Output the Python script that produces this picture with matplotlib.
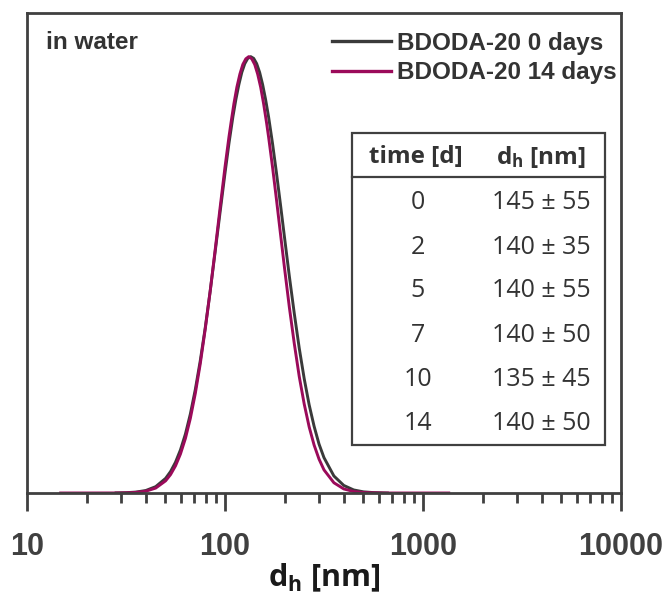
from matplotlib import pyplot as plt
from matplotlib.patches import Rectangle
import numpy as np

plt.rcParams['mathtext.fontset'] = 'custom'
plt.rcParams['mathtext.rm'] = 'Open Sans'
plt.rcParams['mathtext.bf'] = 'Open Sans:bold'

# size distributions (d_h in nm, normalised intensity)
d_0days = [28.18, 31.62, 35.48, 39.81, 44.67, 50.12, 53.09, 56.23, 59.57, 63.10, 66.83, 70.79,
           74.99, 79.43, 84.14, 89.13, 94.41, 100, 104.7, 109.6, 113.5, 117.5, 121.6, 125.9,
           130.3, 134.9, 139.6, 144.5, 149.6, 154.9, 160.3, 166.0, 173.8, 182.0, 190.5, 199.5,
           211.3, 223.9, 237.1, 251.2, 266.1, 281.8, 298.5, 316.2, 354.8, 398.1, 446.7, 501.2,
           562.3, 660.7]
i_0days = [0.0002, 0.0007, 0.0021, 0.0057, 0.0146, 0.0335, 0.0492, 0.0705, 0.0988, 0.135,
           0.181, 0.237, 0.303, 0.378, 0.462, 0.552, 0.643, 0.733, 0.801, 0.862, 0.902, 0.936,
           0.964, 0.984, 0.996, 1.0, 0.996, 0.984, 0.964, 0.936, 0.902, 0.862, 0.801, 0.733,
           0.662, 0.588, 0.497, 0.411, 0.332, 0.262, 0.202, 0.153, 0.112, 0.081, 0.039, 0.0173,
           0.0070, 0.0026, 0.0009, 0.0]
d_14days = [14.79, 28.18, 31.62, 35.48, 39.81, 44.67, 50.12, 53.09, 56.23, 59.57, 63.10, 66.83,
            70.79, 74.99, 79.43, 84.14, 89.13, 94.41, 100, 104.7, 107.2, 110.9, 114.8, 118.9,
            123.0, 127.4, 131.8, 136.5, 141.3, 146.2, 151.4, 156.7, 162.2, 166.0, 173.8, 182.0,
            190.5, 199.5, 211.3, 223.9, 237.1, 251.2, 266.1, 281.8, 298.5, 316.2, 354.8, 398.1,
            446.7, 501.2, 631.0, 1349]
i_14days = [0.0, 0.0001, 0.0004, 0.0014, 0.0041, 0.0113, 0.0279, 0.0422, 0.0622, 0.0894, 0.125,
            0.171, 0.228, 0.296, 0.375, 0.462, 0.556, 0.653, 0.747, 0.816, 0.848, 0.892, 0.930,
            0.960, 0.982, 0.995, 1.0, 0.995, 0.982, 0.960, 0.930, 0.892, 0.848, 0.816, 0.747,
            0.672, 0.595, 0.518, 0.426, 0.342, 0.267, 0.204, 0.1515, 0.110, 0.0776, 0.053,
            0.0235, 0.0093, 0.0034, 0.0010, 0.0, 0.0]

table_time = ['0', '2', '5', '7', '10', '14']
table_dh = ['145 ± 55', '140 ± 35', '140 ± 55', '140 ± 50', '135 ± 45', '140 ± 50']

grey = '#3a3a3a'
purple = '#9b0a5a'
W, H = 670, 594

fig = plt.figure(figsize=(6.7, 5.94), dpi=100)
ax = fig.add_axes([27/W, 1-493/H, (621-27)/W, (493-13)/H])
ax.plot(d_0days, i_0days, c=grey, lw=2.1, label='BDODA-20 0 days')
ax.plot(d_14days, i_14days, c=purple, lw=2.1, label='BDODA-20 14 days')
ax.set_xscale('log')
ax.set_xlim(10, 10000)
ax.set_ylim(0, 1.1)
ax.set_yticks([])
for s in ax.spines.values():
    s.set_color('#404040')
    s.set_linewidth(2.0)
ax.tick_params(which='major', length=13, width=2.0, color='#404040', pad=15)
ax.tick_params(which='minor', length=7, width=2.0, color='#404040')
ax.set_xticks([10, 100, 1000, 10000])
ax.set_xticklabels(['10', '100', '1000', '10000'], fontfamily='Liberation Sans',
                   fontweight='bold', fontsize=22, color='#404040')
ax.set_xlabel(r'$\mathbf{d_h}$ [nm]', fontfamily='Open Sans', fontweight='bold',
              fontsize=22, color='#1a1a1a', labelpad=0)

ax.text(19/(621-27), (493-31)/480, 'in water', transform=ax.transAxes, ha='left', va='top',
        fontfamily='Liberation Sans', fontweight='bold', fontsize=17.5, color='#333333')
leg = ax.legend(loc='upper right', bbox_to_anchor=(617/W, 1-32/H), bbox_transform=fig.transFigure,
                frameon=False, borderpad=0, borderaxespad=0, handlelength=2.43,
                handletextpad=0.28, labelspacing=0.25,
                prop={'family': 'Liberation Sans', 'weight': 'bold', 'size': 17.5})
for t in leg.get_texts():
    t.set_color('#333333')
for l in leg.get_lines():
    l.set_linewidth(2.4)

# inset table
ft = fig.transFigure
fig.patches.append(Rectangle((352/W, 1-445/H), (605-352)/W, (445-133)/H, transform=ft,
                             fill=False, ec='#404040', lw=1.6))
fig.add_artist(plt.Line2D([352/W, 605/W], [1-177/H, 1-177/H], transform=ft, c='#404040', lw=1.6))
fig.text(416/W, 1-157/H, 'time [d]', transform=ft, ha='center', va='center',
         fontfamily='Open Sans', fontweight='bold', fontsize=17.5, color='#333333')
fig.text(541/W, 1-157/H, r'$\mathbf{d_h}$ [nm]', transform=ft, ha='center', va='center',
         fontfamily='Open Sans', fontweight='bold', fontsize=17.5, color='#333333')
row_y = [203, 247, 291, 336, 379, 424]
for t, d, y in zip(table_time, table_dh, row_y):
    fig.text(418/W, 1-y/H, t, transform=ft, ha='center', va='center',
             fontfamily='Open Sans', fontsize=18, color='#333333')
    fig.text(541/W, 1-y/H, d, transform=ft, ha='center', va='center',
             fontfamily='Open Sans', fontsize=18, color='#333333')

plt.savefig('out.png')
